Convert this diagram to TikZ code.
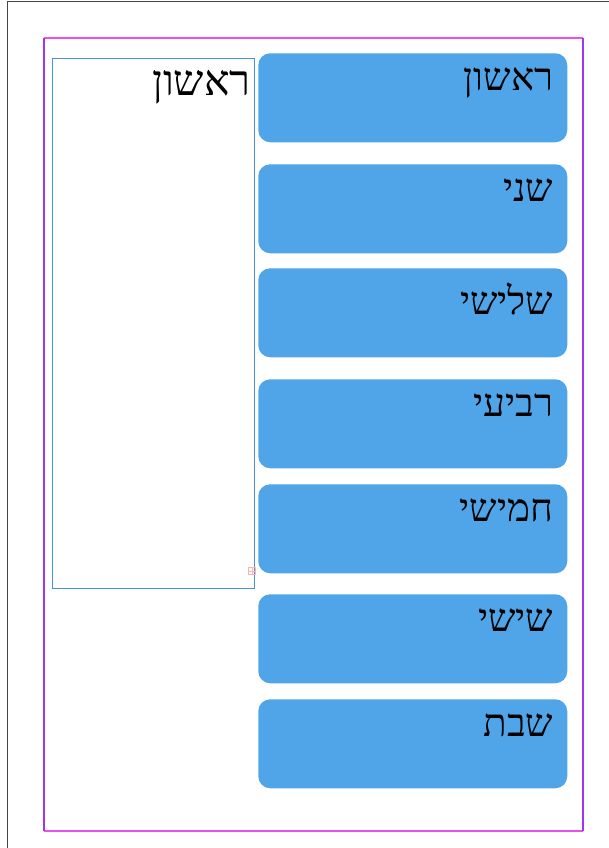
\documentclass[tikz,border=0pt]{standalone}
\usepackage{fontspec}
\newfontfamily\hebfont[Script=Hebrew]{Liberation Serif}
\TeXXeTstate=1
\usetikzlibrary{positioning}
\definecolor{daysky}{HTML}{4FA5E8}
\definecolor{frameblue}{HTML}{4A90E2}
\definecolor{pagegray}{HTML}{444444}
\definecolor{marginpink}{HTML}{E850F0}
\definecolor{marginpurple}{HTML}{A035F5}
\tikzset{daybox/.style={fill=daysky,rounded corners=9pt,minimum width=231.75pt,minimum height=66.75pt,inner sep=0pt,anchor=north west},
  daytext/.style={anchor=north east,inner sep=0pt,font=\hebfont\fontsize{29}{30}\selectfont}}

\begin{document}
\begin{tikzpicture}[x=0.75pt,y=-0.75pt]
    \useasboundingbox (0,0) rectangle (609,848);
    % page edge
    \draw[pagegray,line width=0.9pt] (7.5,848) -- (7.5,1.5) -- (609,1.5);
    % margins
    \draw[marginpink,line width=0.8pt] (44,38) -- (583,38) (44,831) -- (583,831);
    \draw[marginpurple,line width=0.8pt] (44,38) -- (44,831) (583,38) -- (583,831);
    % text frame
    \node[draw=frameblue,line width=0.6pt,minimum width=151.5pt,minimum height=396.75pt,inner sep=0pt,anchor=north west] (frame) at (51.5,58.5) {};
    \node[daytext,font=\hebfont\fontsize{32}{33}\selectfont] (frametext) at ([xshift=-2.5pt,yshift=-8.5pt]frame.north east) {\beginR ראשון\endR};
    \node[draw=red!30,line width=0.5pt,minimum size=5pt,inner sep=0pt] (port) at (252,571) {};
    \draw[red!30,line width=0.4pt] (port.north) -- (port.south) (port.west) -- (port.east);
    % days
    \node[daybox] (d1) at (258,53) {};
    \node[daybox] (d2) at (258,164) {};
    \node[daybox] (d3) at (258,268) {};
    \node[daybox] (d4) at (258,379) {};
    \node[daybox] (d5) at (258,484) {};
    \node[daybox] (d6) at (258,594) {};
    \node[daybox] (d7) at (258,699) {};
    \node[daytext] at ([xshift=-10.5pt,yshift=-11pt]d1.north east) {\beginR ראשון\endR};
    \node[daytext] at ([xshift=-10.5pt,yshift=-11pt]d2.north east) {\beginR שני\endR};
    \node[daytext] at ([xshift=-10.5pt,yshift=-11pt]d3.north east) {\beginR שלישי\endR};
    \node[daytext] at ([xshift=-10.5pt,yshift=-11pt]d4.north east) {\beginR רביעי\endR};
    \node[daytext] at ([xshift=-10.5pt,yshift=-11pt]d5.north east) {\beginR חמישי\endR};
    \node[daytext] at ([xshift=-10.5pt,yshift=-11pt]d6.north east) {\beginR שישי\endR};
    \node[daytext] at ([xshift=-10.5pt,yshift=-11pt]d7.north east) {\beginR שבת\endR};
\end{tikzpicture}
\end{document}
